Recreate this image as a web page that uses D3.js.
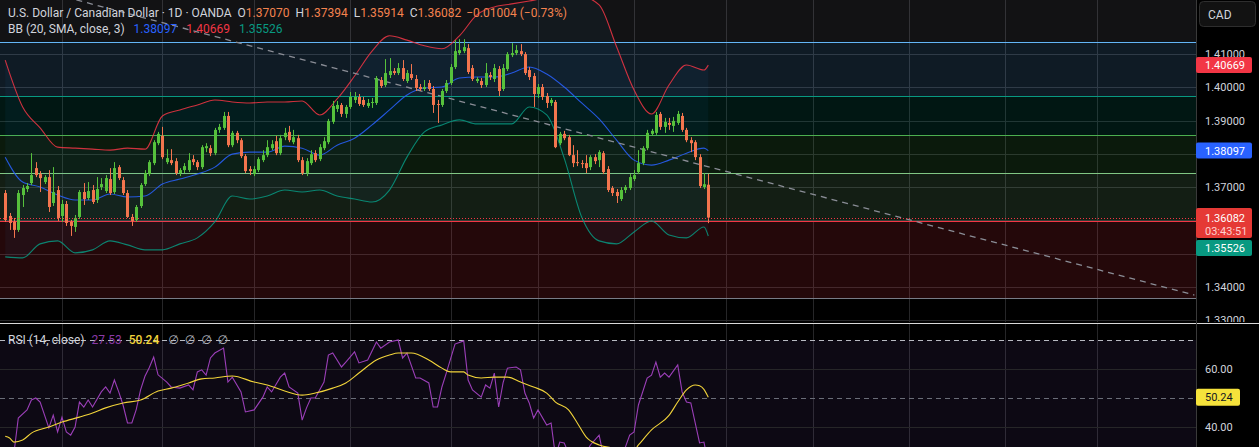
<!DOCTYPE html>
<html><head><meta charset="utf-8"><title>USDCAD 1D</title>
<script src="https://cdn.jsdelivr.net/npm/d3@7/dist/d3.min.js"></script>
<style>
html,body{margin:0;padding:0;background:#000;overflow:hidden;}
svg{display:block;}
</style></head><body>
<svg id="chart" width="1259" height="447"></svg>
<script>
// ---------- DATA ----------
const open = [1.3682,1.3613,1.3595,1.3571,1.3676,1.3694,1.3712,1.3757,1.3739,1.3715,
1.3730,1.3652,1.3691,1.3613,1.3649,1.3595,1.3580,1.3610,1.3685,1.3667,
1.3691,1.3661,1.3700,1.3688,1.3724,1.3685,1.3760,1.3721,1.3682,1.3610,
1.3601,1.3643,1.3709,1.3739,1.3772,1.3832,1.3854,1.3775,1.3781,1.3778,
1.3742,1.3751,1.3751,1.3784,1.3775,1.3760,1.3817,1.3817,1.3802,1.3872,
1.3878,1.3914,1.3826,1.3863,1.3841,1.3793,1.3754,1.3739,1.3751,1.3781,
1.3796,1.3817,1.3838,1.3802,1.3850,1.3866,1.3835,1.3847,1.3781,1.3742,
1.3772,1.3802,1.3784,1.3817,1.3835,1.3896,1.3935,1.3947,1.3920,1.3941,
1.3962,1.3971,1.3962,1.3944,1.3953,1.3953,1.4022,1.4007,1.4037,1.4049,
1.4043,1.4058,1.4019,1.4040,1.4025,1.4001,1.3995,1.4013,1.3995,1.3950,
1.3947,1.3989,1.4013,1.4061,1.4103,1.4109,1.4118,1.4058,1.4019,1.4019,
1.4007,1.4037,1.4025,1.4055,1.3995,1.4055,1.4097,1.4103,1.4109,1.4100,
1.4052,1.4034,1.3980,1.4001,1.3974,1.3953,1.3956,1.3832,1.3860,1.3850,
1.3796,1.3775,1.3772,1.3772,1.3760,1.3790,1.3781,1.3802,1.3754,1.3697,
1.3685,1.3664,1.3691,1.3697,1.3724,1.3745,1.3772,1.3817,1.3860,1.3863,
1.3920,1.3881,1.3893,1.3884,1.3893,1.3914,1.3872,1.3841,1.3835,1.3790,
1.3700,1.37070];
const high = [1.3691,1.3622,1.3607,1.3691,1.3706,1.3712,1.3802,1.3775,1.3748,1.3736,
1.3751,1.3760,1.3703,1.3661,1.3658,1.3601,1.3616,1.3691,1.3712,1.3715,
1.3706,1.3730,1.3727,1.3736,1.3757,1.3775,1.3766,1.3730,1.3691,1.3619,
1.3646,1.3712,1.3751,1.3781,1.3841,1.3866,1.3881,1.3814,1.3814,1.3787,
1.3757,1.3772,1.3802,1.3796,1.3781,1.3826,1.3832,1.3826,1.3878,1.3890,
1.3926,1.3926,1.3869,1.3869,1.3847,1.3799,1.3763,1.3763,1.3790,1.3811,
1.3841,1.3841,1.3854,1.3857,1.3878,1.3884,1.3872,1.3857,1.3790,1.3787,
1.3811,1.3811,1.3829,1.3850,1.3905,1.3959,1.3959,1.3953,1.3947,1.3986,
1.3986,1.3980,1.3971,1.3965,1.3968,1.4034,1.4031,1.4085,1.4088,1.4058,
1.4073,1.4082,1.4052,1.4070,1.4037,1.4010,1.4022,1.4022,1.4004,1.3962,
1.3995,1.4022,1.4070,1.4142,1.4145,1.4145,1.4130,1.4067,1.4031,1.4028,
1.4073,1.4046,1.4070,1.4064,1.4070,1.4106,1.4133,1.4127,1.4130,1.4106,
1.4061,1.4043,1.4010,1.4010,1.3983,1.3968,1.3962,1.3866,1.3869,1.3857,
1.3826,1.3811,1.3781,1.3796,1.3796,1.3799,1.3811,1.3808,1.3763,1.3703,
1.3694,1.3700,1.3706,1.3739,1.3751,1.3811,1.3823,1.3872,1.3875,1.3926,
1.3926,1.3908,1.3908,1.3911,1.3929,1.3923,1.3878,1.3850,1.3841,1.3799,
1.3742,1.37394];
const low = [1.3595,1.3571,1.3547,1.3565,1.3640,1.3685,1.3706,1.3730,1.3685,1.3709,
1.3625,1.3643,1.3598,1.3595,1.3583,1.3553,1.3565,1.3604,1.3646,1.3661,
1.3649,1.3652,1.3691,1.3682,1.3676,1.3679,1.3721,1.3676,1.3607,1.3583,
1.3595,1.3637,1.3703,1.3733,1.3766,1.3826,1.3784,1.3769,1.3766,1.3736,
1.3733,1.3742,1.3745,1.3766,1.3751,1.3754,1.3805,1.3793,1.3796,1.3863,
1.3872,1.3820,1.3820,1.3832,1.3787,1.3742,1.3736,1.3733,1.3745,1.3775,
1.3790,1.3811,1.3796,1.3796,1.3841,1.3835,1.3829,1.3775,1.3736,1.3733,
1.3766,1.3775,1.3778,1.3811,1.3829,1.3890,1.3926,1.3911,1.3908,1.3935,
1.3953,1.3944,1.3941,1.3938,1.3938,1.3947,1.3998,1.4001,1.4028,1.4037,
1.4037,1.4019,1.4013,1.4022,1.3989,1.3989,1.3989,1.3989,1.3923,1.3893,
1.3941,1.3983,1.4007,1.4055,1.4097,1.4103,1.4040,1.4019,1.4013,1.3998,
1.4001,1.4022,1.4016,1.3974,1.3989,1.4049,1.4091,1.4097,1.4094,1.4037,
1.4022,1.3941,1.3968,1.3962,1.3938,1.3944,1.3817,1.3826,1.3841,1.3793,
1.3760,1.3763,1.3757,1.3742,1.3751,1.3769,1.3760,1.3739,1.3685,1.3673,
1.3652,1.3658,1.3682,1.3691,1.3718,1.3739,1.3766,1.3811,1.3854,1.3857,
1.3872,1.3863,1.3872,1.3866,1.3887,1.3866,1.3835,1.3805,1.3781,1.3697,
1.3694,1.35914];
const close = [1.3601,1.3592,1.3571,1.3682,1.3697,1.3703,1.3736,1.3736,1.3727,1.3730,
1.3640,1.3685,1.3607,1.3649,1.3592,1.3583,1.3607,1.3685,1.3664,1.3688,
1.3655,1.3694,1.3709,1.3727,1.3682,1.3757,1.3727,1.3682,1.3610,1.3598,
1.3640,1.3706,1.3742,1.3775,1.3835,1.3860,1.3790,1.3787,1.3772,1.3742,
1.3751,1.3763,1.3781,1.3775,1.3760,1.3820,1.3823,1.3802,1.3872,1.3881,
1.3914,1.3826,1.3863,1.3841,1.3793,1.3748,1.3748,1.3754,1.3784,1.3796,
1.3820,1.3829,1.3802,1.3847,1.3863,1.3841,1.3850,1.3781,1.3742,1.3778,
1.3799,1.3781,1.3820,1.3838,1.3899,1.3944,1.3947,1.3920,1.3941,1.3971,
1.3971,1.3950,1.3947,1.3953,1.3956,1.4028,1.4004,1.4043,1.4049,1.4043,
1.4058,1.4025,1.4043,1.4028,1.3998,1.3995,1.4001,1.3995,1.3947,1.3947,
1.3989,1.4013,1.4061,1.4109,1.4112,1.4121,1.4046,1.4025,1.4025,1.4007,
1.4043,1.4031,1.4058,1.3989,1.4058,1.4100,1.4103,1.4112,1.4100,1.4043,
1.4031,1.3980,1.4001,1.3971,1.3953,1.3962,1.3820,1.3860,1.3847,1.3796,
1.3772,1.3772,1.3769,1.3757,1.3790,1.3778,1.3805,1.3745,1.3691,1.3682,
1.3673,1.3691,1.3700,1.3730,1.3736,1.3772,1.3817,1.3863,1.3869,1.3917,
1.3881,1.3896,1.3887,1.3899,1.3920,1.3872,1.3841,1.3832,1.3790,1.3703,
1.37086,1.36082];

// Bollinger Bands (20, SMA, close, 3), read every 4 bars
const bbIndex = [0,4,8,12,16,20,24,28,32,36,40,44,48,52,56,60,64,68,72,76,80,84,88,92,96,100,104,108,112,116,120,124,128,132,136,140,144,148,152,156,160,161];
const bbUpper = [1.4082,1.3941,1.3878,1.3820,1.3817,1.3814,1.3811,1.3817,1.3814,1.3914,1.3932,1.3947,1.3962,1.3956,1.3953,1.3956,1.3956,1.3959,1.3917,1.3965,1.4034,1.4109,1.4155,1.4142,1.4125,1.4116,1.4155,1.4218,1.4242,1.4251,1.4260,1.4269,1.4272,1.4272,1.4248,1.4122,1.3992,1.3920,1.4007,1.4067,1.4052,1.40669];
const bbBasis = [1.3790,1.3715,1.3700,1.3676,1.3661,1.3661,1.3679,1.3670,1.3673,1.3709,1.3724,1.3739,1.3760,1.3799,1.3805,1.3805,1.3823,1.3817,1.3796,1.3826,1.3847,1.3887,1.3932,1.3977,1.3998,1.4001,1.4028,1.4031,1.4031,1.4043,1.4061,1.4040,1.4001,1.3953,1.3905,1.3841,1.3781,1.3766,1.3781,1.3802,1.3817,1.38097];
const bbLower = [1.3490,1.3487,1.3529,1.3538,1.3502,1.3511,1.3538,1.3526,1.3511,1.3511,1.3529,1.3547,1.3595,1.3673,1.3664,1.3673,1.3691,1.3685,1.3691,1.3673,1.3664,1.3655,1.3691,1.3790,1.3866,1.3887,1.3902,1.3890,1.3890,1.3890,1.3941,1.3917,1.3787,1.3610,1.3538,1.3529,1.3565,1.3598,1.3556,1.3547,1.3580,1.35526];

// RSI (14) and its MA
const rsiIndex = [0,1,2,3,5,6,7,8,10,11,12,13,14,15,16,17,18,19,20,22,23,24,25,26,27,28,29,30,31,32,33,34,35,37,38,40,42,43,44,45,46,47,48,50,51,52,54,55,57,59,60,61,63,64,65,67,68,69,70,71,73,74,75,77,78,80,81,83,85,86,88,90,91,92,94,95,97,98,99,100,101,103,105,106,107,109,110,111,112,113,114,115,117,118,119,120,121,122,124,125,126,127,128,129,130,131,132,133,134,136,137,138,139,140,141,142,143,144,145,147,148,149,150,151,152,154,155,156,157,159,160,161];
const rsiValue = [29,28,31,43.1,45.9,49.3,50,48.6,39.7,44.1,38.3,43.4,38.3,37.2,40,48.6,46.9,49.3,46.9,52.1,53.8,51.7,56.2,52.1,47.5,41.4,41.4,46,52.8,57.5,60.5,64.1,58,55.5,53.8,53.4,54.5,52.8,59,59.7,57.9,63.8,65.5,67.2,55.5,57.2,52.1,45.2,45.9,50.3,53.8,52.1,57.2,58.6,53.8,51.7,42.4,46.6,50,50,55.5,64.8,65.5,60.7,62.4,65.9,62.1,63.1,69.3,67.2,69.3,70,63.8,65.5,56.9,56.9,55.2,46.9,46.9,53.8,58.6,68.6,69.7,56.2,52.8,50.3,54.5,53.4,58.6,46.9,55.2,60.3,60.7,59.7,51.7,48.3,43.1,45.9,40.7,41.4,30,34.8,34.5,31,29,30,29.5,31,33.8,37.2,30,25,24,23,27,33,37.2,38.3,47.6,56.9,57.9,62.4,57.2,58.6,57.2,61.4,52.1,48.6,48.3,34.5,34.8,27.53];
const rsiMaIndex = [0,1,2,4,6,10,13,17,20,23,27,31,35,38,42,45,48,52,57,60,64,68,71,75,78,81,85,88,90,93,97,100,102,105,106,109,112,115,118,121,124,126,129,131,133,136,139,144,145,148,152,154,156,158,159,160,161];
const rsiMaValue = [36.8,36.2,34.8,35.5,37.9,40,41.7,43.4,44.8,46.6,48.3,49.3,52.4,53.4,55.2,56.6,56.9,57.6,55.5,54.5,52.4,51,51.7,53.4,55.2,58.6,63.1,64.8,65.5,65.5,63.1,60.3,59,59,57.9,56.9,57.2,57.2,55.5,53.8,51.7,48.6,45.9,41.4,36.6,33.8,32.8,32.1,33.8,39,44,48.6,52.8,54.5,54.2,53,50.24];

// axes / drawings
const priceTicks = [1.33,1.34,1.35,1.36,1.37,1.38,1.39,1.40,1.41];
const rsiTicks = [40,60];
const rsiBands = [70,50,30];
const monthStartIndex = [13,36,57,79,102,122,144,165,185,207,229,250];
const fibLevels = [0,0.236,0.382,0.5,0.618,0.786,1];
const fibColors = ['#787b86','#f23645','#81c784','#4caf50','#089981','#64b5f6','#787b86'];
const fibStart = 1.33661, fibEnd = 1.43479;
const trendLine = [[16.3,1.4263],[272.3,1.3375]];
const countdown = '03:43:51';

// ---------- LAYOUT ----------
const W = 1259, H = 447;
const plotRight = 1196, mainBottom = 322, rsiTop = 324;
const FONT = 'Roboto, "Noto Sans", "DejaVu Sans", sans-serif';
const UP = '#56c13c', DOWN = '#f3754e';
const x = d3.scaleLinear().domain([0,161]).range([5.2,708.3]);
const y = d3.scaleLinear().domain([1.33,1.41]).range([320,54.1]);
const yR = d3.scaleLinear().domain([40,70]).range([427,340]);
const f5 = d3.format('.5f'), f2 = d3.format('.2f');
const crisp = v => Math.round(v) + 0.5;

const svg = d3.select('#chart').style('font-family', FONT);
svg.append('rect').attr('width',W).attr('height',H).attr('fill','#000');
const defs = svg.append('defs');
defs.append('clipPath').attr('id','cm').append('rect').attr('x',0).attr('y',0).attr('width',plotRight).attr('height',mainBottom);
defs.append('clipPath').attr('id','cr').append('rect').attr('x',0).attr('y',rsiTop).attr('width',plotRight).attr('height',H-rsiTop);
defs.append('clipPath').attr('id','ca').append('rect').attr('x',plotRight).attr('y',0).attr('width',W-plotRight).attr('height',mainBottom);

const gm = svg.append('g').attr('clip-path','url(#cm)');
const gr = svg.append('g').attr('clip-path','url(#cr)');
const gridColor = '#262628';

// grid (main)
monthStartIndex.forEach(i => {
  gm.append('line').attr('x1',crisp(x(i))).attr('x2',crisp(x(i))).attr('y1',0).attr('y2',mainBottom).attr('stroke',gridColor);
  gr.append('line').attr('x1',crisp(x(i))).attr('x2',crisp(x(i))).attr('y1',rsiTop).attr('y2',H).attr('stroke',gridColor);
});
priceTicks.forEach(p => gm.append('line').attr('x1',0).attr('x2',plotRight).attr('y1',crisp(y(p))).attr('y2',crisp(y(p))).attr('stroke',gridColor));

// fib retracement fills and lines
const fibPrice = l => fibStart + l*(fibEnd - fibStart);
for (let k = 0; k < fibLevels.length - 1; k++) {
  const yt = y(fibPrice(fibLevels[k+1])), yb = y(fibPrice(fibLevels[k]));
  gm.append('rect').attr('x',0).attr('width',plotRight).attr('y',yt).attr('height',yb-yt)
    .attr('fill',fibColors[k+1]).attr('fill-opacity',0.15);
}
fibLevels.forEach((l,k) => {
  const yy = crisp(y(fibPrice(l)));
  gm.append('line').attr('x1',0).attr('x2',plotRight).attr('y1',yy).attr('y2',yy).attr('stroke',fibColors[k]).attr('stroke-width',1);
});

// Bollinger fill + lines
const bb = bbIndex.map((i,k) => ({i, u: bbUpper[k], m: bbBasis[k], l: bbLower[k]}));
gm.append('path').datum(bb).attr('d', d3.area().x(d=>x(d.i)).y0(d=>y(d.l)).y1(d=>y(d.u)).curve(d3.curveMonotoneX))
  .attr('fill','#2196f3').attr('fill-opacity',0.05);
[['u','#f23645'],['m','#2962ff'],['l','#089981']].forEach(([key,col]) => {
  gm.append('path').datum(bb).attr('d', d3.line().x(d=>x(d.i)).y(d=>y(d[key])).curve(d3.curveMonotoneX))
    .attr('fill','none').attr('stroke',col).attr('stroke-width',1.1).attr('stroke-opacity',0.85);
});

// trend line (dashed)
gm.append('line').attr('x1',x(trendLine[0][0])).attr('y1',y(trendLine[0][1]))
  .attr('x2',x(trendLine[1][0])).attr('y2',y(trendLine[1][1]))
  .attr('stroke','#8a8d96').attr('stroke-width',1.3).attr('stroke-dasharray','6,5');

// candles
const candles = d3.range(open.length).map(i => ({i, o: open[i], h: high[i], l: low[i], c: close[i]}));
const cg = gm.append('g');
cg.selectAll('line').data(candles).join('line')
  .attr('x1',d=>crisp(x(d.i))).attr('x2',d=>crisp(x(d.i)))
  .attr('y1',d=>y(d.h)).attr('y2',d=>y(d.l))
  .attr('stroke',d=>d.c>=d.o?UP:DOWN).attr('stroke-width',1);
cg.selectAll('rect').data(candles).join('rect')
  .attr('x',d=>Math.round(x(d.i))-1).attr('width',3)
  .attr('y',d=>y(Math.max(d.o,d.c)))
  .attr('height',d=>Math.max(1, Math.abs(y(d.o)-y(d.c))))
  .attr('fill',d=>d.c>=d.o?UP:DOWN);

// last price line
const last = close[close.length-1];
gm.append('line').attr('x1',0).attr('x2',plotRight).attr('y1',crisp(y(last))).attr('y2',crisp(y(last)))
  .attr('stroke','#f23645').attr('stroke-dasharray','1,2');

// ---------- RSI pane ----------
gr.append('rect').attr('x',0).attr('width',plotRight).attr('y',yR(70)).attr('height',yR(30)-yR(70))
  .attr('fill','#7e57c2').attr('fill-opacity',0.1);
rsiTicks.forEach(v => gr.append('line').attr('x1',0).attr('x2',plotRight).attr('y1',crisp(yR(v))).attr('y2',crisp(yR(v))).attr('stroke',gridColor));
rsiBands.forEach(v => gr.append('line').attr('x1',0).attr('x2',plotRight).attr('y1',crisp(yR(v))).attr('y2',crisp(yR(v)))
  .attr('stroke', v===50 ? '#6a6d78' : '#b8bac2').attr('stroke-dasharray','5,4'));
const rsiPts = rsiIndex.map((i,k)=>({i, v: rsiValue[k]}));
const maPts = rsiMaIndex.map((i,k)=>({i, v: rsiMaValue[k]}));
gr.append('path').datum(rsiPts).attr('d', d3.line().x(d=>x(d.i)).y(d=>yR(d.v)))
  .attr('fill','none').attr('stroke','#9b3fb8').attr('stroke-width',1.1);
gr.append('path').datum(maPts).attr('d', d3.line().x(d=>x(d.i)).y(d=>yR(d.v)).curve(d3.curveMonotoneX))
  .attr('fill','none').attr('stroke','#f2d43a').attr('stroke-width',1.1);

// separators
svg.append('line').attr('x1',0).attr('x2',W).attr('y1',323.5).attr('y2',323.5).attr('stroke','#d8d8d8');
svg.append('line').attr('x1',plotRight+0.5).attr('x2',plotRight+0.5).attr('y1',0).attr('y2',H).attr('stroke','#3a3a3a');

// ---------- right axis ----------
const upLast = bbUpper[bbUpper.length-1], midLast = bbBasis[bbBasis.length-1], loLast = bbLower[bbLower.length-1];
const maLast = rsiMaValue[rsiMaValue.length-1];
const cpY = y(last);
// price tags: [center y, height]
const tags = [
  {cy: y(upLast), h: 16, txt: f5(upLast), fill: '#f23645', color: '#fff', w: 56},
  {cy: y(midLast), h: 16, txt: f5(midLast), fill: '#2962ff', color: '#fff', w: 56},
  {cy: cpY + 5.5, h: 30, txt: null, fill: '#e53935', color: '#fff', w: 56},
];
tags.push({cy: Math.max(y(loLast), cpY + 20.5 + 10), h: 16, txt: f5(loLast), fill: '#089981', color: '#fff', w: 56});

const ga = svg.append('g').attr('clip-path','url(#ca)');
priceTicks.forEach(p => {
  const ty = y(p);
  const hidden = tags.some(t => Math.abs(ty - t.cy) < t.h/2 + 1);
  if (!hidden) ga.append('text').attr('x',1205).attr('y',ty).attr('dy','0.36em')
    .attr('font-size',11).attr('fill','#d1d4dc').text(f5(p));
});
rsiTicks.forEach(v => svg.append('text').attr('x',1205).attr('y',yR(v)).attr('dy','0.36em')
  .attr('font-size',11).attr('fill','#d1d4dc').text(f2(v)));

function tag(cy, txt, fill, color, w, h) {
  svg.append('rect').attr('x',plotRight).attr('y',cy - h/2).attr('width',w).attr('height',h).attr('rx',2).attr('fill',fill);
  if (txt) svg.append('text').attr('x',1205).attr('y',cy).attr('dy','0.36em').attr('font-size',11).attr('fill',color).text(txt);
}
tags.forEach(t => tag(t.cy, t.txt, t.fill, t.color, t.w, t.h));
svg.append('text').attr('x',1205).attr('y',cpY).attr('dy','0.36em').attr('font-size',11).attr('fill','#fff').text(f5(last));
svg.append('text').attr('x',1205).attr('y',cpY+13.5).attr('dy','0.36em').attr('font-size',11).attr('fill','#ffd0d0').text(countdown);
tag(yR(maLast), f2(maLast), '#f5e23b', '#131722', 44, 17);

// CAD button
svg.append('rect').attr('x',1199.5).attr('y',1.5).attr('width',56).attr('height',25).attr('rx',4)
  .attr('fill','#121212').attr('stroke','#2e2e2e');
svg.append('text').attr('x',1208).attr('y',14.5).attr('dy','0.36em').attr('font-size',12).attr('fill','#d1d4dc').text('CAD');

// ---------- legends ----------
const n = close.length - 1;
const chg = close[n] - close[n-1];
const LEGC = '#d1d4dc', VAL = chg < 0 ? '#f5834f' : UP;
const l1 = svg.append('text').attr('x',8).attr('y',16.5).attr('font-size',12);
l1.append('tspan').attr('fill',LEGC).text('U.S. Dollar / Canadian Dollar · 1D · OANDA');
[['O',open[n]],['H',high[n]],['L',low[n]],['C',close[n]]].forEach(([k,v],j) => {
  l1.append('tspan').attr('dx', 6).attr('fill',LEGC).text(k);
  l1.append('tspan').attr('fill',VAL).text(f5(v));
});
l1.append('tspan').attr('dx',5).attr('fill',VAL).text(`${f5(chg)} (${d3.format('.2f')(chg/close[n-1]*100)}%)`);

const l2 = svg.append('text').attr('x',8).attr('y',32.5).attr('font-size',12);
l2.append('tspan').attr('fill',LEGC).text('BB (20, SMA, close, 3)');
l2.append('tspan').attr('dx',9).attr('fill','#2962ff').text(f5(midLast));
l2.append('tspan').attr('dx',9).attr('fill','#f23645').text(f5(upLast));
l2.append('tspan').attr('dx',9).attr('fill','#089981').text(f5(loLast));

const l3 = svg.append('text').attr('x',8).attr('y',344).attr('font-size',12);
l3.append('tspan').attr('fill',LEGC).text('RSI (14, close)');
l3.append('tspan').attr('dx',7).attr('fill','#8b3aa6').text(f2(rsiValue[rsiValue.length-1]));
l3.append('tspan').attr('dx',7).attr('fill','#f2d43a').attr('font-weight',500).text(f2(maLast));
['∅','∅','∅','∅'].forEach((s,j) => l3.append('tspan').attr('dx', j===0?9:6).attr('fill','#b2b5be').text(s));
</script>
</body></html>
